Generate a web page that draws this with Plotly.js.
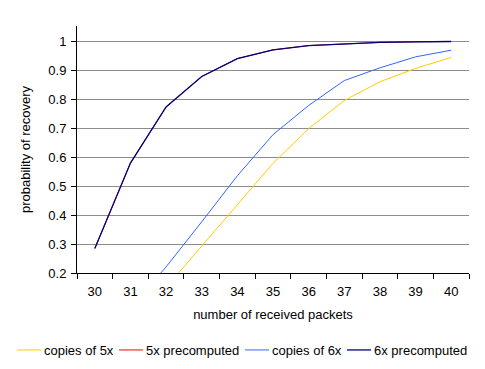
<!DOCTYPE html>
<html>
<head>
<meta charset="utf-8">
<script src="https://cdn.plot.ly/plotly-3.0.1.min.js"></script>
<style>html,body{margin:0;padding:0;background:#fff;}#chart{width:485px;height:369px;}</style>
</head>
<body>
<div id="chart"></div>
<script>
// Data
const packets = ["30","31","32","33","34","35","36","37","38","39","40"];
const copiesOf5x = [-0.05, 0.01, 0.15, 0.293, 0.438, 0.579, 0.699, 0.796, 0.861, 0.907, 0.945];
const precomputed5x = [0.285, 0.58, 0.774, 0.879, 0.941, 0.971, 0.986, 0.992, 0.997, 0.999, 1.0];
const copiesOf6x = [-0.06, 0.08, 0.221, 0.377, 0.536, 0.678, 0.779, 0.865, 0.909, 0.947, 0.970];
const precomputed6x = [0.285, 0.58, 0.774, 0.879, 0.941, 0.971, 0.986, 0.992, 0.997, 0.999, 1.0];
const seriesNames = ["copies of 5x", "5x precomputed", "copies of 6x", "6x precomputed"];
const yTickVals = [0.2, 0.3, 0.4, 0.5, 0.6, 0.7, 0.8, 0.9, 1.0];
const yTickText = ["0.2", "0.3", "0.4", "0.5", "0.6", "0.7", "0.8", "0.9", "1"];

const font = {family: "Liberation Sans, Arial, sans-serif", size: 13, color: "#000"};
const legendIds = ["legend", "legend2", "legend3", "legend4"];
const legendTextStart = [44, 146, 272, 374];
const mk = (y, i, color, width) => ({
  x: packets, y: y, name: seriesNames[i], type: "scatter", mode: "lines",
  line: {color: color, width: width}, legend: legendIds[i]
});
const traces = [
  mk(copiesOf5x, 0, "#FFCC00", 1),
  mk(precomputed5x, 1, "#FF0000", 1),
  mk(copiesOf6x, 2, "#3366FF", 1),
  mk(precomputed6x, 3, "#000080", 1.3)
];
const layout = {
  width: 485, height: 369,
  margin: {l: 76.5, r: 16, t: 26, b: 96},
  paper_bgcolor: "#fff", plot_bgcolor: "#fff",
  font: font,
  showlegend: true,
  xaxis: {type: "category", range: [-0.5, 10.5], tickson: "boundaries", ticks: "outside", ticklen: 5,
          tickcolor: "#000", showline: true, linecolor: "#000", linewidth: 1, showgrid: false,
          zeroline: false, tickfont: font, fixedrange: true, ticklabelstandoff: 6,
          title: {text: "number of received packets", font: font, standoff: 12}},
  yaxis: {range: [0.2, 1.0536], tickvals: yTickVals, ticktext: yTickText, ticks: "outside", ticklen: 5,
          tickcolor: "#000", showline: true, linecolor: "#000", linewidth: 1, showgrid: true,
          gridcolor: "#8c8c8c", gridwidth: 1, zeroline: false, tickfont: font, fixedrange: true,
          ticklabelstandoff: 2,
          title: {text: "probability of recovery", font: font, standoff: 14}}
};
legendIds.forEach((id, i) => {
  layout[id] = {orientation: "h", xref: "container", yref: "container",
                x: (legendTextStart[i] - 40) / 485, xanchor: "left",
                y: 1 - 350 / 369, yanchor: "middle", font: font, itemwidth: 30,
                bgcolor: "rgba(0,0,0,0)", borderwidth: 0};
});
Plotly.newPlot("chart", traces, layout, {displayModeBar: false, staticPlot: true}).then(gd => {
  // shorten legend sample lines to match the reference's short strokes
  gd.querySelectorAll(".legendlines path").forEach(p => p.setAttribute("d", "M13,0h24"));
});
</script>
</body>
</html>
